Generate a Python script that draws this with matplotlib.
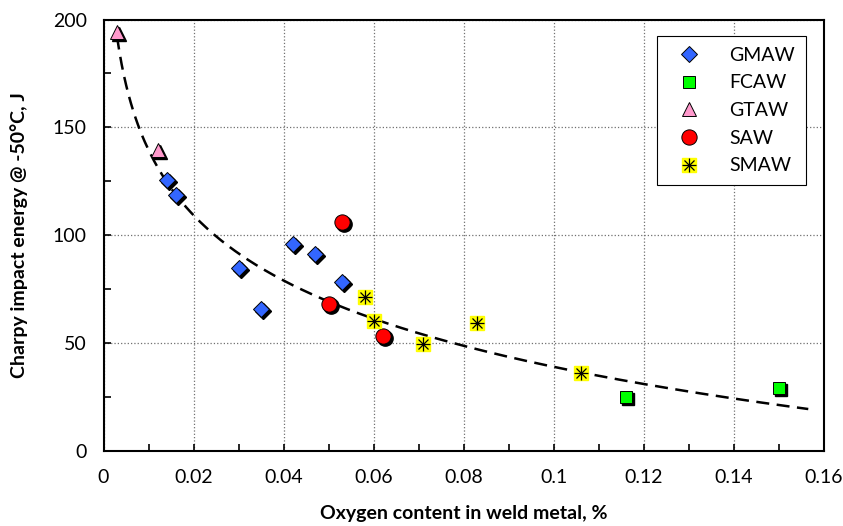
import matplotlib
matplotlib.use("Agg")
import matplotlib.pyplot as plt
import matplotlib.transforms as mtransforms
from matplotlib.legend_handler import HandlerTuple
from matplotlib.ticker import MultipleLocator
import numpy as np

plt.rcParams["font.family"] = ["Lato", "DejaVu Sans"]

# Datos: oxígeno (%) vs energía Charpy (J)
gmaw_x = [0.014, 0.016, 0.030, 0.035, 0.042, 0.047, 0.053]
gmaw_y = [125.5, 118.6, 84.5, 65.7, 95.8, 91.0, 78.3]
fcaw_x = [0.116, 0.150]
fcaw_y = [25.0, 28.9]
gtaw_x = [0.003, 0.012]
gtaw_y = [194.3, 139.4]
saw_x = [0.053, 0.050, 0.062]
saw_y = [106.2, 68.0, 53.3]
smaw_x = [0.058, 0.060, 0.071, 0.083, 0.106]
smaw_y = [71.4, 60.2, 49.3, 59.0, 36.1]

# Tendencia logarítmica y = a + b ln(x)
trend_a = -61.8
trend_b = -43.7
trend_x0, trend_x1 = 0.003, 0.1565

fig = plt.figure(figsize=(8.43, 5.26), dpi=100)
ax = fig.add_axes([0.1228, 0.1435, 0.8547, 0.8194])

xs = np.linspace(trend_x0, trend_x1, 300)
ax.plot(xs, trend_a + trend_b * np.log(xs), color="black", lw=1.8,
        dashes=(5.2, 3.0), zorder=2)

sombra = ax.transData + mtransforms.ScaledTranslation(2 / 100, -2 / 100,
                                                      fig.dpi_scale_trans)

series = [
    (gmaw_x, gmaw_y, "D", 8, "#3366FF"),
    (fcaw_x, fcaw_y, "s", 9, "#00FF00"),
    (gtaw_x, gtaw_y, "^", 10, "#FF99CC"),
    (saw_x, saw_y, "o", 11, "#FF0000"),
]
nombres = ["GMAW", "FCAW", "GTAW", "SAW"]
handles = []
for (x, y, m, ms, c), nom in zip(series, nombres):
    ax.plot(x, y, ls="none", marker=m, ms=ms, mfc="black", mec="black",
            transform=sombra, zorder=3)
    h, = ax.plot(x, y, ls="none", marker=m, ms=ms, mfc=c, mec="black",
                 mew=0.7, zorder=4, label=nom)
    handles.append(h)

# SMAW: cuadro amarillo con asterisco
h1, = ax.plot(smaw_x, smaw_y, ls="none", marker="s", ms=10, mfc="#FFFF00",
              mec="#FFFF00", zorder=4)
h2, = ax.plot(smaw_x, smaw_y, ls="none", marker="+", ms=10, mec="black",
              mew=0.9, zorder=5)
h3, = ax.plot(smaw_x, smaw_y, ls="none", marker="x", ms=7.5, mec="black",
              mew=0.9, zorder=5)
handles.append((h1, h2, h3))
nombres.append("SMAW")

ax.set_xlim(0, 0.16)
ax.set_ylim(0, 200)
ax.xaxis.set_major_locator(MultipleLocator(0.02))
ax.xaxis.set_minor_locator(MultipleLocator(0.01))
ax.yaxis.set_major_locator(MultipleLocator(50))
ax.yaxis.set_minor_locator(MultipleLocator(25))
ax.set_xticks(np.arange(0, 0.161, 0.02))
ax.set_xticklabels(["0", "0.02", "0.04", "0.06", "0.08", "0.1", "0.12",
                    "0.14", "0.16"])
ax.tick_params(which="both", direction="in", labelsize=14, width=1.2,
               color="black")
ax.tick_params(which="major", length=5, pad=13)
ax.tick_params(which="minor", length=5)
ax.tick_params(axis="y", pad=12)
ax.grid(True, which="major", ls=":", color="#707070", lw=0.9)
ax.set_axisbelow(True)
for s in ax.spines.values():
    s.set_linewidth(1.5)

ax.set_xlabel("Oxygen content in weld metal, %", fontsize=14,
              fontweight="bold", labelpad=14)
ax.set_ylabel("Charpy impact energy @ -50\u00b0C, J", fontsize=14,
              fontweight="bold", labelpad=18)

leg = ax.legend(handles, nombres, loc="upper right",
                bbox_to_anchor=(806 / 843, 1 - 36 / 526),
                bbox_transform=fig.transFigure, fontsize=14,
                handler_map={tuple: HandlerTuple(ndivide=1)},
                fancybox=False, edgecolor="black", framealpha=1,
                borderpad=0.55, labelspacing=0.55, handlelength=2.2,
                handletextpad=1.0, borderaxespad=0)
leg.get_frame().set_linewidth(0.8)

fig.savefig("out.png", dpi=100)
